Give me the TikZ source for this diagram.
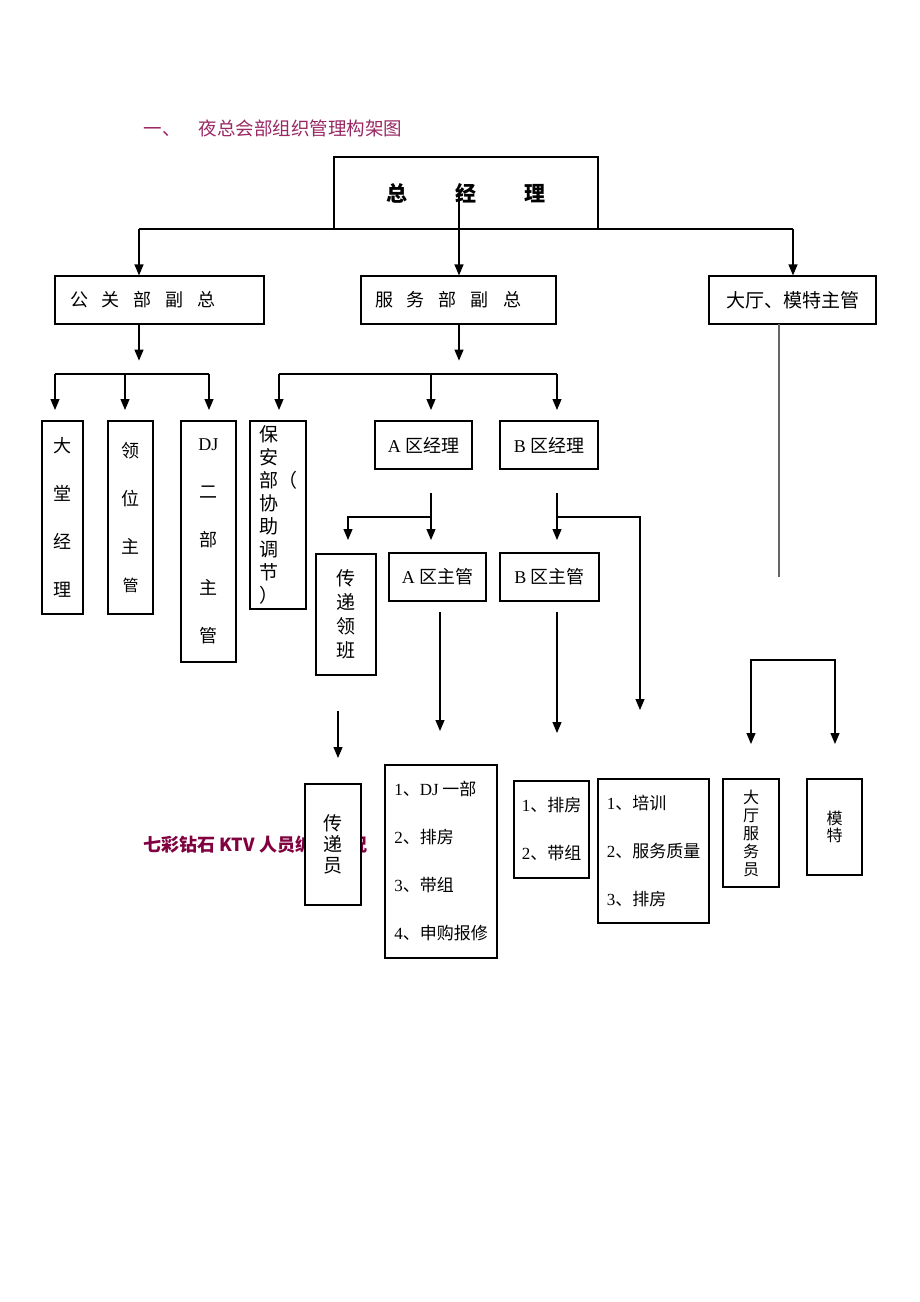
\documentclass[tikz,border=0pt]{standalone}
\usepackage{fontspec}
\setmainfont{Liberation Serif}
\newfontfamily\cjk{Noto Sans CJK SC}
\usetikzlibrary{arrows.meta}
\definecolor{titlered}{RGB}{153,40,100}
\definecolor{darkred}{RGB}{128,0,64}
\newcommand\gp{\hspace{14pt}}

\begin{document}
\begin{tikzpicture}[x=1pt, y=-1pt,
box/.style={draw, fill=white, line width=1.2pt, inner sep=0pt, font=\cjk\fontsize{18}{24}\selectfont},
sz/.style 2 args={minimum width=#1pt, minimum height=#2pt},
tall/.style={align=center, font=\cjk\fontsize{18}{48}\selectfont},
list/.style={align=left, font=\cjk\fontsize{17}{48}\selectfont},
arr/.style={-{Triangle[length=11pt,width=9pt]}, line width=1.2pt},
arrs/.style={{Triangle[length=11pt,width=9pt]}-{Triangle[length=11pt,width=9pt]}, line width=1.2pt},
conn/.style={line width=1.2pt},
]
\useasboundingbox (0,0) rectangle (920,1302);

%Titles
\node[anchor=west, text=titlered, font=\cjk\fontsize{18.5}{22}\selectfont] (title) at (140,128) {一、\hspace{18pt}夜总会部组织管理构架图};
\node[anchor=west, text=darkred, font=\cjk\bfseries\fontsize{18}{22}\selectfont] (kt) at (140,845) {七彩钻石 KTV 人员编制情况};

%Nodes
\node[box, sz={264}{72}, font=\cjk\bfseries\fontsize{21}{24}\selectfont] (zjl) at (466,193) {总\hspace{48pt}经\hspace{48pt}理};
\node[box, sz={209}{48}, text width=179pt, align=left] (ggfz) at (159.5,300) {公\gp 关\gp 部\gp 副\gp 总};
\node[box, sz={195}{48}, text width=167pt, align=left] (fwfz) at (458.5,300) {服\gp 务\gp 部\gp 副\gp 总};
\node[box, sz={167}{48}, font=\cjk\fontsize{19}{24}\selectfont] (dtzg) at (792.5,300) {大厅、模特主管};

\node[box, sz={41}{193}, tall] (dtjl) at (62.5,517.5) {大\\堂\\经\\理};
\node[box, sz={45}{193}, tall] (lwzg) at (130.5,517.5) {领\\位\\主\\[-10pt]{\fontsize{16}{20}\selectfont 管}};
\node[box, sz={55}{241}, tall] (djzg) at (208.5,541.5) {\textrm{DJ}\\二\\部\\主\\管};
\node[box, sz={56}{188}, align=left, font=\cjk\fontsize{19}{23}\selectfont] (bab) at (278,515) {保\\安\\部（\\协\\助\\调\\节\\）};
\node[box, sz={97}{48}] (azjl) at (423.5,445) {\textrm{A} 区经理};
\node[box, sz={98}{48}] (bzjl) at (549,445) {\textrm{B} 区经理};
\node[box, sz={60}{121}, align=center, font=\cjk\fontsize{19}{24}\selectfont] (cdlb) at (346,614.5) {传\\递\\领\\班};
\node[box, sz={97}{48}] (azzg) at (437.5,577) {\textrm{A} 区主管};
\node[box, sz={99}{48}] (bzzg) at (549.5,577) {\textrm{B} 区主管};

\node[box, sz={56}{121}, align=center, font=\cjk\fontsize{19}{21}\selectfont] (cdy) at (333,844.5) {传\\递\\员};
\node[box, sz={112}{193}, list] (alist) at (441,861.5) {\textrm{1}、\textrm{DJ} 一部\\\textrm{2}、排房\\\textrm{3}、带组\\\textrm{4}、申购报修};
\node[box, sz={75}{97}, list] (blist) at (551.5,829.5) {\textrm{1}、排房\\\textrm{2}、带组};
\node[box, sz={111}{144}, list] (clist) at (653.5,851) {\textrm{1}、培训\\\textrm{2}、服务质量\\\textrm{3}、排房};
\node[box, sz={56}{108}, align=center, font=\cjk\fontsize{16}{18}\selectfont] (dtfwy) at (751,833) {大\\厅\\服\\务\\员};
\node[box, sz={55}{96}, align=center, font=\cjk\fontsize{16}{17}\selectfont] (mt) at (834.5,827) {模\\特};

%Lines
\coordinate (zc) at (459,195);
\coordinate (hl) at (139,229);
\coordinate (hr) at (793,229);
\draw[arr] (zc) -- (zc |- fwfz.north);
\draw[conn] (hl) -- (hr);
\draw[arr] (hl) -- (hl |- ggfz.north);
\draw[arr] (hr) -- (hr |- dtzg.north);

% 公关部副总
\draw[arr] (hl |- ggfz.south) -- ++(0,36);
\draw[conn] (55,374) -- (209,374);
\foreach \x in {55,125,209} \draw[arr] (\x,374) -- (\x,410);

% 服务部副总
\draw[arr] (zc |- fwfz.south) -- ++(0,36);
\draw[conn] (279,374) -- (557,374);
\foreach \x in {279,431,557} \draw[arr] (\x,374) -- (\x,410);

% A区 / B区经理
\draw[arr] (431,493) -- (431,540);
\draw[arr] (431,517) -| (348,540);
\draw[arr] (557,493) -- (557,540);
\draw[arr] (557,517) -| (640,710);

% 主管
\draw[arr] (338,711) -- (338,758);
\draw[arr] (440,612) -- (440,731);
\draw[arr] (557,612) -- (557,733);

% 大厅、模特
\draw[conn, black!60] (779,324) -- (779,577);
\draw[arrs] (751,744) |- (835,660) -- (835,744);
\end{tikzpicture}
\end{document}
